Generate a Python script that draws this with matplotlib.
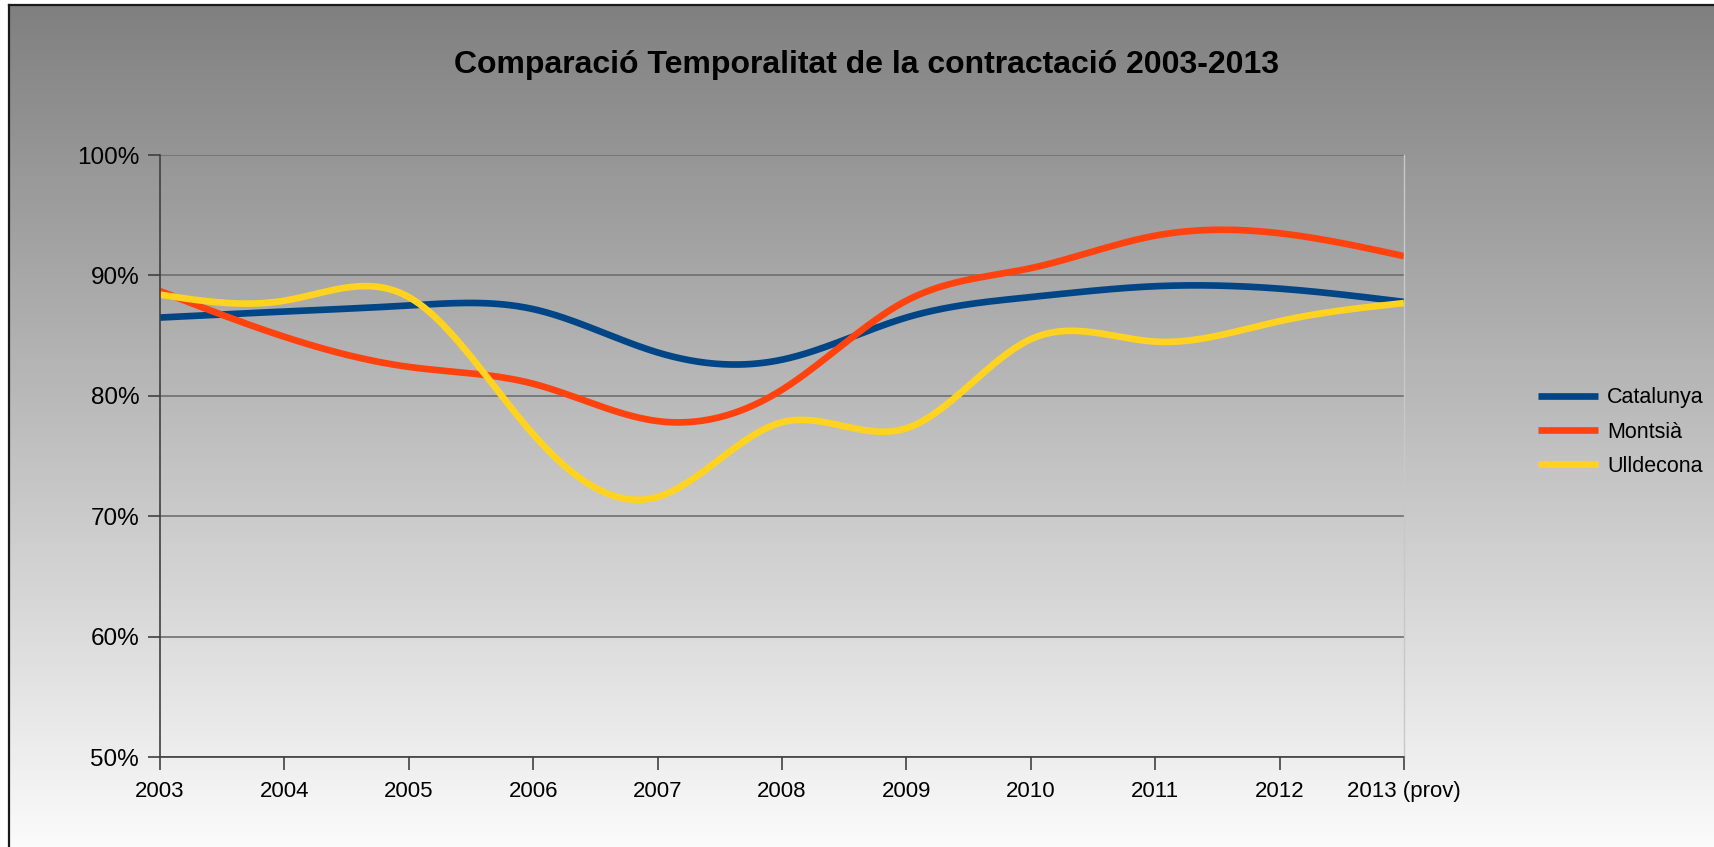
import numpy as np
import matplotlib
matplotlib.use("Agg")
import matplotlib.pyplot as plt
from matplotlib.lines import Line2D

plt.rcParams['font.family'] = ['Liberation Sans', 'DejaVu Sans']

# --- data ---
years = ["2003", "2004", "2005", "2006", "2007", "2008", "2009", "2010", "2011", "2012", "2013 (prov)"]
catalunya = [86.5, 87.0, 87.5, 87.2, 83.6, 83.0, 86.5, 88.2, 89.1, 88.9, 87.8]
montsia   = [88.7, 84.9, 82.4, 81.0, 77.9, 80.5, 87.9, 90.6, 93.3, 93.5, 91.6]
ulldecona = [88.4, 87.9, 88.2, 76.8, 71.6, 77.8, 77.3, 84.7, 84.5, 86.2, 87.7]
series_names = ["Catalunya", "Montsià", "Ulldecona"]
series_colors = ["#004586", "#ff420e", "#ffd320"]
yticks = [50, 60, 70, 80, 90, 100]


def smooth(y, n=600):
    """natural cubic spline through equally spaced points (like the office 'smooth line')"""
    y = np.asarray(y, float)
    x = np.arange(len(y), dtype=float)
    h = np.diff(x)
    m = len(y)
    A = np.zeros((m, m)); d = np.zeros(m)
    A[0, 0] = A[-1, -1] = 1
    for i in range(1, m - 1):
        A[i, i - 1] = h[i - 1]; A[i, i] = 2 * (h[i - 1] + h[i]); A[i, i + 1] = h[i]
        d[i] = 6 * ((y[i + 1] - y[i]) / h[i] - (y[i] - y[i - 1]) / h[i - 1])
    M = np.linalg.solve(A, d)
    t = np.linspace(x[0], x[-1], n)
    k = np.clip(np.searchsorted(x, t, side="right") - 1, 0, m - 2)
    hk = h[k]; x0 = x[k]; x1 = x[k + 1]
    s = (M[k] * (x1 - t) ** 3 / (6 * hk) + M[k + 1] * (t - x0) ** 3 / (6 * hk)
         + (y[k] / hk - M[k] * hk / 6) * (x1 - t) + (y[k + 1] / hk - M[k + 1] * hk / 6) * (t - x0))
    return t, s


W, H = 1714, 847
fig = plt.figure(figsize=(W / 100, H / 100), dpi=100)
fig.patch.set_facecolor("white")

# gradient background (gray top -> near white bottom)
bg = fig.add_axes([9 / W, 0, 1 - 9 / W, (H - 6) / H], zorder=-10)
grad = np.linspace(0, 1, 256)[:, None]
bg.imshow(grad, aspect="auto", cmap=matplotlib.colors.LinearSegmentedColormap.from_list(
    "g", ["#808080", "#fbfbfb"]), extent=[0, 1, 0, 1], origin="upper")
bg.set_axis_off()
fig.add_artist(Line2D([8.5 / W, 8.5 / W], [0, 1 - 5.5 / H], transform=fig.transFigure, color="#1a1a1a", lw=1.6))
fig.add_artist(Line2D([8.5 / W, 1], [1 - 5.5 / H, 1 - 5.5 / H], transform=fig.transFigure, color="#1a1a1a", lw=1.6))

ax = fig.add_axes([160 / W, (H - 757) / H, 1244 / W, 602 / H])
ax.set_facecolor("none")

x = np.arange(len(years))
for vals, name, col in zip([catalunya, montsia, ulldecona], series_names, series_colors):
    t, s = smooth(vals)
    ax.plot(t, s, color=col, lw=4.8, label=name, solid_capstyle="butt")

ax.set_xlim(0, len(years) - 1)
ax.set_ylim(50, 100)
ax.set_xticks(x)
ax.set_xticklabels(years)
ax.set_yticks(yticks)
ax.set_yticklabels([f"{v}%" for v in yticks])
ax.tick_params(axis="both", length=9, width=1.2, color="#404040", labelcolor="black")
ax.tick_params(axis="y", pad=6, labelsize=17.5)
ax.tick_params(axis="x", pad=8, labelsize=16)
ax.grid(axis="y", color="#6f6f6f", lw=1.2)
ax.set_axisbelow(True)
ax.spines["top"].set_visible(False)
ax.spines["right"].set_color("#c8c8c8")
ax.spines["right"].set_linewidth(1.0)
for side in ["left", "bottom"]:
    ax.spines[side].set_color("#404040")
    ax.spines[side].set_linewidth(1.2)

fig.text(866 / W, 1 - 65 / H, "Comparació Temporalitat de la contractació 2003-2013",
         ha="center", va="center", fontsize=23, fontweight="bold")

ax.legend(loc="center left", bbox_to_anchor=(1538 / W, 1 - 432 / H), bbox_transform=fig.transFigure,
          frameon=False, fontsize=15.5, handlelength=2.8, handletextpad=0.4, labelspacing=0.62,
          borderpad=0, borderaxespad=0)

fig.savefig("out.png", dpi=100)
